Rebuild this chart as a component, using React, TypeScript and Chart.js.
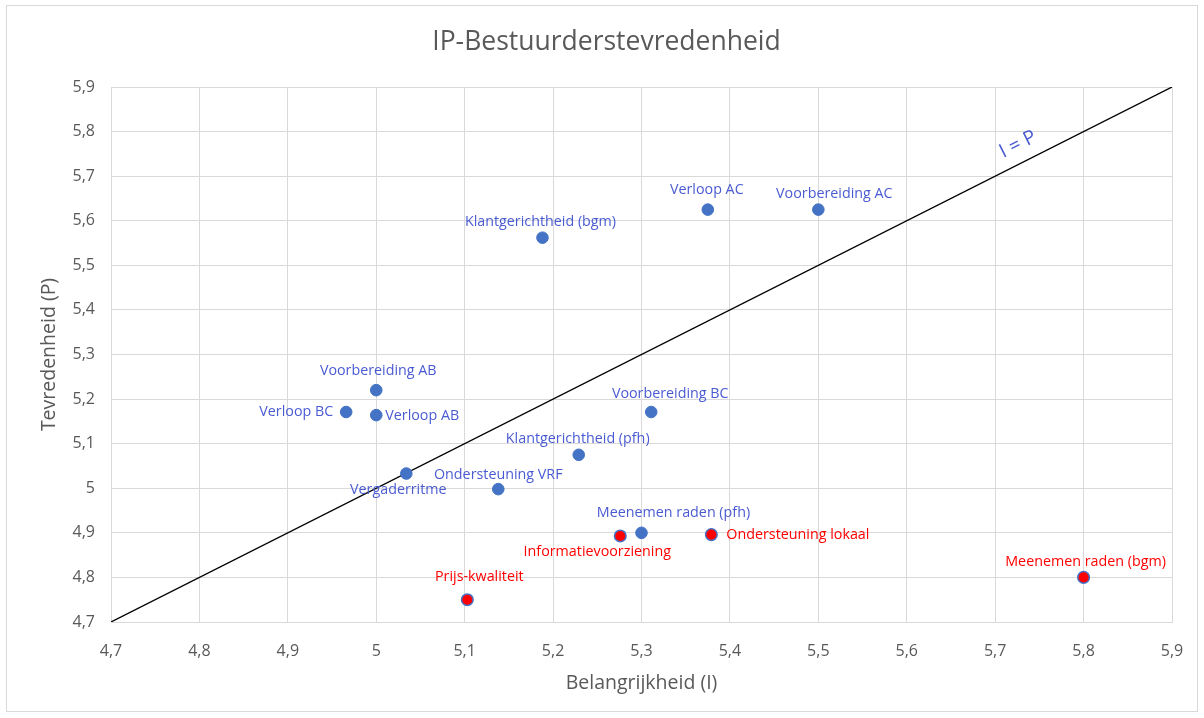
import React, { useEffect, useRef } from "react";
import { Chart, registerables } from "chart.js";

Chart.register(...registerables);

const chartTitle = "IP-Bestuurderstevredenheid";
const xAxisTitle = "Belangrijkheid (I)";
const yAxisTitle = "Tevredenheid (P)";
const diagonalLabel = "I = P";

const tickValues = [4.7, 4.8, 4.9, 5.0, 5.1, 5.2, 5.3, 5.4, 5.5, 5.6, 5.7, 5.8, 5.9];
const tickLabels = ["4,7", "4,8", "4,9", "5", "5,1", "5,2", "5,3", "5,4", "5,5", "5,6", "5,7", "5,8", "5,9"];

const blueNames = [
  "Voorbereiding AB",
  "Verloop BC",
  "Verloop AB",
  "Vergaderritme",
  "Ondersteuning VRF",
  "Klantgerichtheid (pfh)",
  "Voorbereiding BC",
  "Meenemen raden (pfh)",
  "Klantgerichtheid (bgm)",
  "Verloop AC",
  "Voorbereiding AC",
];
const blueX = [5.0, 4.966, 5.0, 5.034, 5.138, 5.229, 5.311, 5.3, 5.188, 5.375, 5.5];
const blueY = [5.22, 5.171, 5.164, 5.033, 4.998, 5.075, 5.171, 4.9, 5.562, 5.625, 5.625];

const redNames = ["Informatievoorziening", "Ondersteuning lokaal", "Prijs-kwaliteit", "Meenemen raden (bgm)"];
const redX = [5.276, 5.379, 5.103, 5.8];
const redY = [4.893, 4.896, 4.75, 4.8];

const diagonalX = [4.7, 5.9];
const diagonalY = [4.7, 5.9];
const diagonalLabelAt = 5.735;

// label placement relative to its point: [align, dx, dy]
const blueLabelPlacement: [CanvasTextAlign, number, number][] = [
  ["center", 2, -19],
  ["right", -13, 0],
  ["left", 9, 1],
  ["center", -8, 16],
  ["center", 0, -14],
  ["center", -1, -16],
  ["center", 19, -18],
  ["center", 32, -20],
  ["center", -2, -16],
  ["center", -1, -20],
  ["center", 16, -16],
];
const redLabelPlacement: [CanvasTextAlign, number, number][] = [
  ["center", -23, 16],
  ["left", 15, 0],
  ["center", 12, -23],
  ["center", 2, -15],
];

const FONT = "'Open Sans', 'Noto Sans', sans-serif";
const BLUE = "#4472C4";
const LABEL_BLUE = "#4A5BD2";
const RED = "#FF0000";
const GRAY = "#595959";
const GRID = "#D9D9D9";

const titlePlugin = {
  id: "customTitle",
  afterDraw(chart: any) {
    const ctx = chart.ctx;
    ctx.save();
    ctx.font = `26.5px ${FONT}`;
    ctx.fillStyle = GRAY;
    ctx.textAlign = "center";
    ctx.textBaseline = "middle";
    ctx.fillText(chartTitle, chart.width / 2 + 4.5, 36);
    ctx.restore();
  },
};

const labelPlugin = {
  id: "pointLabels",
  afterDatasetsDraw(chart: any) {
    const ctx = chart.ctx;
    const xs = chart.scales.x;
    const ys = chart.scales.y;
    ctx.save();
    ctx.font = `14.3px ${FONT}`;
    ctx.textBaseline = "middle";
    const draw = (names: string[], X: number[], Y: number[], place: [CanvasTextAlign, number, number][], color: string) => {
      ctx.fillStyle = color;
      names.forEach((n, i) => {
        const px = xs.getPixelForValue(X[i]);
        const py = ys.getPixelForValue(Y[i]);
        const [align, dx, dy] = place[i];
        ctx.textAlign = align;
        ctx.fillText(n, px + dx, py + dy);
      });
    };
    draw(blueNames, blueX, blueY, blueLabelPlacement, LABEL_BLUE);
    draw(redNames, redX, redY, redLabelPlacement, RED);

    // I = P label along the diagonal
    const p1x = xs.getPixelForValue(diagonalX[0]);
    const p1y = ys.getPixelForValue(diagonalY[0]);
    const p2x = xs.getPixelForValue(diagonalX[1]);
    const p2y = ys.getPixelForValue(diagonalY[1]);
    const ang = Math.atan2(p2y - p1y, p2x - p1x);
    const cx = xs.getPixelForValue(diagonalLabelAt);
    const cy = ys.getPixelForValue(diagonalLabelAt);
    ctx.translate(cx, cy);
    ctx.rotate(ang);
    ctx.font = `19.5px ${FONT}`;
    ctx.fillStyle = LABEL_BLUE;
    ctx.textAlign = "center";
    ctx.fillText(diagonalLabel, 0, -18);
    ctx.restore();
  },
};

export default function App() {
  const ref = useRef<HTMLCanvasElement | null>(null);

  useEffect(() => {
    if (!ref.current) return;
    const setTicks = (scale: any) => {
      scale.ticks = tickValues.map((v) => ({ value: v }));
    };
    const chart = new Chart(ref.current, {
      type: "scatter",
      data: {
        datasets: [
          {
            label: "blue",
            data: blueX.map((x, i) => ({ x, y: blueY[i] })),
            backgroundColor: BLUE,
            borderColor: BLUE,
            borderWidth: 1,
            pointRadius: 5.8,
            order: 1,
          },
          {
            label: "red",
            data: redX.map((x, i) => ({ x, y: redY[i] })),
            backgroundColor: RED,
            borderColor: BLUE,
            borderWidth: 1.5,
            pointRadius: 5.8,
            order: 1,
          },
          {
            type: "line",
            label: "I = P",
            data: diagonalX.map((x, i) => ({ x, y: diagonalY[i] })),
            borderColor: "#000000",
            borderWidth: 1.3,
            pointRadius: 0,
            fill: false,
            order: 2,
          } as any,
        ],
      },
      options: {
        animation: false,
        responsive: false,
        layout: { padding: { left: 0, right: 25, top: 81, bottom: 0 } },
        plugins: {
          legend: { display: false },
          tooltip: { enabled: false },
          title: { display: false },
        },
        scales: {
          x: {
            type: "linear",
            min: 4.7,
            max: 5.9,
            afterBuildTicks: setTicks,
            afterFit: (s: any) => {
              s.height = 89;
              s.paddingLeft = 0;
              s.paddingRight = 0;
            },
            grid: { color: GRID, drawTicks: false },
            border: { color: GRID },
            ticks: {
              padding: 20,
              color: GRAY,
              font: { family: FONT, size: 16 },
              callback: (_v: any, i: number) => tickLabels[i],
            },
            title: {
              display: true,
              text: xAxisTitle,
              color: GRAY,
              font: { family: FONT, size: 19.5 },
              padding: { top: 0, bottom: 16.3 },
            },
          },
          y: {
            type: "linear",
            min: 4.7,
            max: 5.9,
            afterBuildTicks: setTicks,
            afterFit: (s: any) => {
              s.width = 104;
              s.paddingTop = 0;
              s.paddingBottom = 0;
            },
            grid: { color: GRID, drawTicks: false },
            border: { color: GRID },
            ticks: {
              padding: 16,
              color: GRAY,
              font: { family: FONT, size: 16 },
              callback: (_v: any, i: number) => tickLabels[i],
            },
            title: {
              display: true,
              text: yAxisTitle,
              color: GRAY,
              font: { family: FONT, size: 19.5 },
              padding: { top: 31, bottom: 0 },
            },
          },
        },
      },
      plugins: [labelPlugin, titlePlugin],
    } as any);
    return () => chart.destroy();
  }, []);

  return (
    <div style={{ position: "fixed", left: 0, top: 0, width: 1204, height: 718, background: "#fff" }}>
      <div
        style={{
          position: "absolute",
          left: 6,
          top: 5,
          width: 1190,
          height: 705,
          border: "1px solid #D9D9D9",
          background: "#fff",
        }}
      >
        <canvas ref={ref} width={1190} height={705} style={{ display: "block", width: 1190, height: 705 }} />
      </div>
    </div>
  );
}
